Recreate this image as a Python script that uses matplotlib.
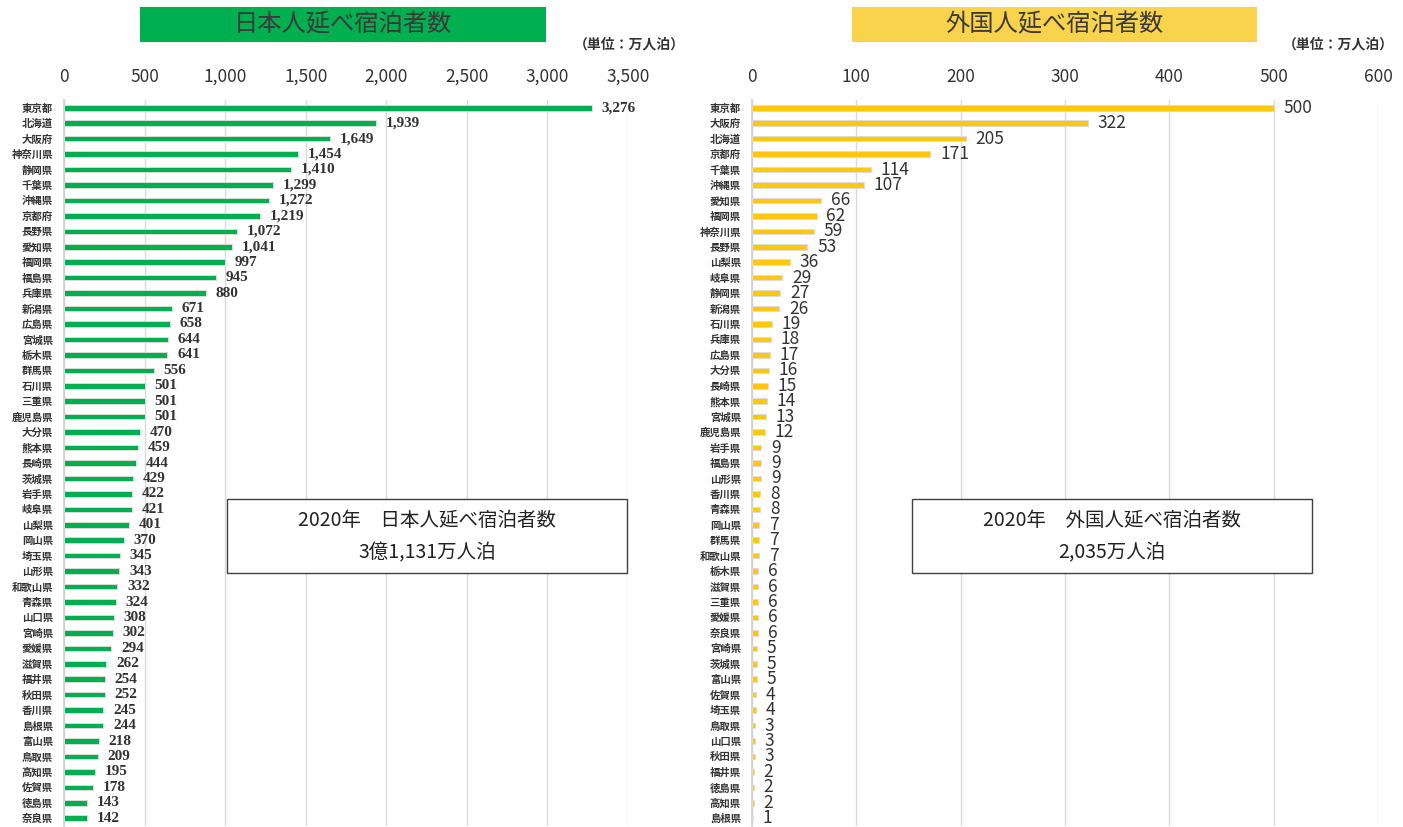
import matplotlib.pyplot as plt
from matplotlib.patches import Rectangle

plt.rcParams['font.family'] = ['Noto Sans CJK JP', 'DejaVu Sans']

# 日本人延べ宿泊者数（万人泊）
jp_prefs = ["東京都", "北海道", "大阪府", "神奈川県", "静岡県", "千葉県", "沖縄県", "京都府",
            "長野県", "愛知県", "福岡県", "福島県", "兵庫県", "新潟県", "広島県", "宮城県",
            "栃木県", "群馬県", "石川県", "三重県", "鹿児島県", "大分県", "熊本県", "長崎県",
            "茨城県", "岩手県", "岐阜県", "山梨県", "岡山県", "埼玉県", "山形県", "和歌山県",
            "青森県", "山口県", "宮崎県", "愛媛県", "滋賀県", "福井県", "秋田県", "香川県",
            "島根県", "富山県", "鳥取県", "高知県", "佐賀県", "徳島県", "奈良県"]
jp_values = [3276, 1939, 1649, 1454, 1410, 1299, 1272, 1219, 1072, 1041, 997, 945, 880,
             671, 658, 644, 641, 556, 501, 501, 501, 470, 459, 444, 429, 422, 421, 401,
             370, 345, 343, 332, 324, 308, 302, 294, 262, 254, 252, 245, 244, 218, 209,
             195, 178, 143, 142]

# 外国人延べ宿泊者数（万人泊）
fg_prefs = ["東京都", "大阪府", "北海道", "京都府", "千葉県", "沖縄県", "愛知県", "福岡県",
            "神奈川県", "長野県", "山梨県", "岐阜県", "静岡県", "新潟県", "石川県", "兵庫県",
            "広島県", "大分県", "長崎県", "熊本県", "宮城県", "鹿児島県", "岩手県", "福島県",
            "山形県", "香川県", "青森県", "岡山県", "群馬県", "和歌山県", "栃木県", "滋賀県",
            "三重県", "愛媛県", "奈良県", "宮崎県", "茨城県", "富山県", "佐賀県", "埼玉県",
            "鳥取県", "山口県", "秋田県", "福井県", "徳島県", "高知県", "島根県"]
fg_values = [500, 322, 205, 171, 114, 107, 66, 62, 59, 53, 36, 29, 27, 26, 19, 18, 17,
             16, 15, 14, 13, 12, 9, 9, 9, 8, 8, 7, 7, 7, 6, 6, 6, 6, 6, 5, 5, 5, 4, 4,
             3, 3, 3, 2, 2, 2, 1]

jp_ticks = [0, 500, 1000, 1500, 2000, 2500, 3000, 3500]
fg_ticks = [0, 100, 200, 300, 400, 500, 600]

GREEN = "#00b050"
YELLOW = "#ffc80a"
TEXT = "#333333"

W, H = 1403, 827
fig = plt.figure(figsize=(W / 100, H / 100), dpi=100)


def px_axes(x0, y0, x1, y1):
    return fig.add_axes([x0 / W, 1 - y1 / H, (x1 - x0) / W, (y1 - y0) / H])


def draw_panel(ax, prefs, values, ticks, color, label_kw, offset):
    n = len(prefs)
    ypos = list(range(n))
    ax.barh(ypos, values, height=0.36, color=color, edgecolor="#dcdcdc", linewidth=0.7,
            zorder=3)
    ax.set_ylim(n - 0.5, -0.5)
    ax.set_xlim(ticks[0], ticks[-1])
    ax.set_yticks(ypos)
    ax.set_yticklabels(prefs, fontsize=7.5, fontweight='bold', color=TEXT)
    ax.set_xticks(ticks)
    ax.set_xticklabels([f"{t:,}" for t in ticks], fontsize=12.5, color=TEXT)
    ax.xaxis.tick_top()
    ax.tick_params(axis='x', length=0, pad=10)
    ax.tick_params(axis='y', length=0, pad=8)
    ax.grid(axis='x', color="#dadada", linewidth=1.0, zorder=0)
    for side in ("top", "right", "bottom"):
        ax.spines[side].set_visible(False)
    ax.spines["left"].set_color("#cfcfcf")
    ax.spines["left"].set_linewidth(1.2)
    for i, v in enumerate(values):
        ax.annotate(f"{v:,}", (v, i), textcoords="offset points", xytext=(offset, 0),
                    ha='left', va='center', color=TEXT, **label_kw)


ax1 = px_axes(64, 100, 628, 826)
draw_panel(ax1, jp_prefs, jp_values, jp_ticks, GREEN,
           dict(fontsize=11, fontweight='bold', family=['Liberation Serif']), 7)

ax2 = px_axes(752, 100, 1378, 826)
draw_panel(ax2, fg_prefs, fg_values, fg_ticks, YELLOW, dict(fontsize=12.5), 7)

# 見出しボックス
for (x0, x1, fc, title) in [(140, 546, GREEN, "日本人延べ宿泊者数"),
                            (852, 1257, "#f9d34c", "外国人延べ宿泊者数")]:
    fig.patches.append(Rectangle((x0 / W, 1 - 42 / H), (x1 - x0) / W, 35 / H,
                                 transform=fig.transFigure, facecolor=fc, edgecolor='none'))
    fig.text((x0 + x1) / 2 / W, 1 - 24.5 / H, title, ha='center', va='center',
             fontsize=17.5, color="#3a3a3a")

fig.text(685 / W, 1 - 44 / H, "（単位：万人泊）", ha='right', va='center', fontsize=10,
         fontweight='bold', color=TEXT)
fig.text(1394 / W, 1 - 44 / H, "（単位：万人泊）", ha='right', va='center', fontsize=10,
         fontweight='bold', color=TEXT)

# 合計ボックス
for (x0, line1, line2) in [(227, "2020年　日本人延べ宿泊者数", "3億1,131万人泊"),
                           (912, "2020年　外国人延べ宿泊者数", "2,035万人泊")]:
    fig.patches.append(Rectangle((x0 / W, 1 - 573 / H), 400 / W, 74 / H,
                                 transform=fig.transFigure, facecolor='white',
                                 edgecolor='#404040', linewidth=1.0, zorder=5))
    cx = (x0 + 200) / W
    fig.text(cx, 1 - 520 / H, line1, ha='center', va='center', fontsize=14,
             color='#222222', zorder=6)
    fig.text(cx, 1 - 553 / H, line2, ha='center', va='center', fontsize=14,
             color='#222222', zorder=6)

fig.savefig("out.png", dpi=100)
